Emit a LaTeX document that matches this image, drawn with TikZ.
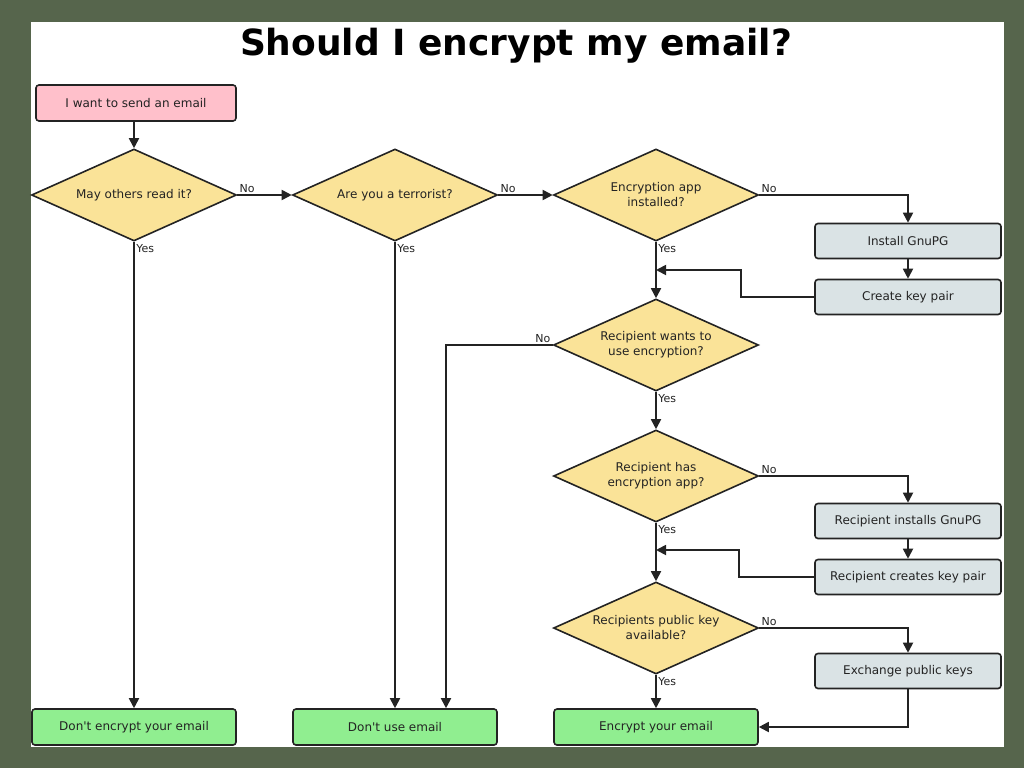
\documentclass[tikz,border=0pt]{standalone}
\usepackage{fontspec}
\setmainfont{DejaVu Sans}
\usetikzlibrary{arrows.meta, shapes.geometric}
\definecolor{boardgreen}{RGB}{86,101,76}
\definecolor{startpink}{RGB}{255,192,203}
\definecolor{endgreen}{RGB}{144,238,144}
\definecolor{stepgrey}{RGB}{218,227,229}
\definecolor{askyellow}{RGB}{250,227,152}
\definecolor{inkgrey}{RGB}{35,35,35}
\tikzset{
  >=Triangle,  % filled triangle tips
  % Boxes
  box/.style={draw=inkgrey,line width=1.6pt,rounded corners=3pt,minimum width=200pt,minimum height=36pt,
    inner sep=2pt,font=\fontsize{12}{15}\selectfont,text=inkgrey},
  box start/.style={box,fill=startpink},
  box end/.style={box,fill=endgreen,minimum width=204pt},
  box action/.style={box,fill=stepgrey,minimum width=186pt,minimum height=35pt},
  % Decisions
  decision/.style={diamond,draw=inkgrey,line width=1.6pt,fill=askyellow,minimum width=205pt,minimum height=92pt,
    aspect=2.2,inner sep=1pt,align=center,font=\fontsize{12}{15}\selectfont,text=inkgrey},
  % Connections
  connect arrow/.style={-{Triangle[length=10pt,width=10pt]},line width=1.8pt,inkgrey},
  answer/.style={font=\fontsize{11}{12}\selectfont,inner sep=1.5pt,text=inkgrey}
}
\begin{document}
\begin{tikzpicture}[x=1pt,y=1pt]
        % Board and sheet
        \fill[boardgreen] (0,0) rectangle (1024,-768);
        \fill[white] (31,-22) rectangle (1004,-747);
        \node[font=\bfseries\fontsize{36}{40}\selectfont] (title) at (516,-46) {Should I encrypt my email?};
        % Left part
        \node[box start] (start) at (136,-103) {I want to send an email};
        \node[decision] (askread) at (134,-195) {May others read it?};
        \node[decision] (askterror) at (395,-195) {Are you a terrorist?};
        \node[box end] (noencrypt) at (134,-727) {Don\textquotesingle t encrypt your email};
        \node[box end] (nomail) at (395,-727) {Don\textquotesingle t use email};
        % Sender side
        \node[decision] (askapp) at (656,-195) {Encryption app\\installed?};
        \node[box action] (install) at (908,-241) {Install GnuPG};
        \node[box action] (keypair) at (908,-297) {Create key pair};
        \node[decision] (askwants) at (656,-345) {Recipient wants to\\use encryption?};
        % Recipient side
        \node[decision] (askhas) at (656,-476) {Recipient has\\encryption app?};
        \node[box action] (rinstall) at (908,-521) {Recipient installs GnuPG};
        \node[box action] (rkeypair) at (908,-577) {Recipient creates key pair};
        \node[decision] (askkey) at (656,-628) {Recipients public key\\available?};
        \node[box action] (exchange) at (908,-671) {Exchange public keys};
        \node[box end] (encrypt) at (656,-727) {Encrypt your email};
        \coordinate (join1) at (656,-270);
        \coordinate (join2) at (656,-550);
        % Connections
        \draw[connect arrow] (start.south -| askread.north) -- (askread.north);
        \draw[connect arrow] (askread.east) node[answer,above right]{No} -- (askterror.west);
        \draw[connect arrow] (askread.south) node[answer,below right]{Yes} -- (noencrypt);
        \draw[connect arrow] (askterror.east) node[answer,above right]{No} -- (askapp.west);
        \draw[connect arrow] (askterror.south) node[answer,below right]{Yes} -- (nomail);
        \draw[connect arrow] (askapp.east) node[answer,above right]{No} -| (install.north);
        \draw[connect arrow] (askapp.south) node[answer,below right]{Yes} -- (askwants.north);
        \draw[connect arrow] (install) -- (keypair);
        \draw[connect arrow] (keypair.west) -- ++(-73,0) |- (join1);
        \draw[connect arrow] (askwants.west) node[answer,above left]{No} -| ([xshift=51pt]nomail.north);
        \draw[connect arrow] (askwants.south) node[answer,below right]{Yes} -- (askhas.north);
        \draw[connect arrow] (askhas.east) node[answer,above right]{No} -| (rinstall.north);
        \draw[connect arrow] (askhas.south) node[answer,below right]{Yes} -- (askkey.north);
        \draw[connect arrow] (rinstall) -- (rkeypair);
        \draw[connect arrow] (rkeypair.west) -- ++(-75,0) |- (join2);
        \draw[connect arrow] (askkey.east) node[answer,above right]{No} -| (exchange.north);
        \draw[connect arrow] (askkey.south) node[answer,below right]{Yes} -- (encrypt);
        \draw[connect arrow] (exchange.south) |- (encrypt.east);
\end{tikzpicture}
\end{document}
